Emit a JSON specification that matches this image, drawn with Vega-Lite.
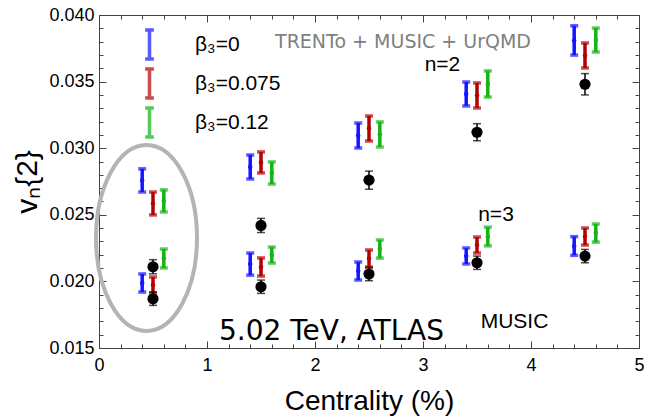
{
  "$schema": "https://vega.github.io/schema/vega-lite/v6.json",
  "width": 540,
  "height": 333,
  "autosize": "none",
  "padding": {"left": 99, "top": 15, "right": 12, "bottom": 69},
  "background": "white",
  "config": {"view": {"stroke": "#444444", "strokeWidth": 1}, "font": "Liberation Sans"},
  "datasets": {
    "models": [
      {"model": "β₃=0", "n": 2, "x": 0.4, "v": 0.02758, "err": 0.00087},
      {"model": "β₃=0.075", "n": 2, "x": 0.5, "v": 0.02585, "err": 0.00086},
      {"model": "β₃=0.12", "n": 2, "x": 0.6, "v": 0.02604, "err": 0.00083},
      {"model": "β₃=0", "n": 3, "x": 0.4, "v": 0.01988, "err": 0.00068},
      {"model": "β₃=0.075", "n": 3, "x": 0.5, "v": 0.01973, "err": 0.0006},
      {"model": "β₃=0.12", "n": 3, "x": 0.6, "v": 0.02172, "err": 0.00071},
      {"model": "β₃=0", "n": 2, "x": 1.4, "v": 0.02859, "err": 0.0009},
      {"model": "β₃=0.075", "n": 2, "x": 1.5, "v": 0.02893, "err": 0.00079},
      {"model": "β₃=0.12", "n": 2, "x": 1.6, "v": 0.02814, "err": 0.00083},
      {"model": "β₃=0", "n": 3, "x": 1.4, "v": 0.0213, "err": 0.00083},
      {"model": "β₃=0.075", "n": 3, "x": 1.5, "v": 0.02108, "err": 0.00068},
      {"model": "β₃=0.12", "n": 3, "x": 1.6, "v": 0.02198, "err": 0.0006},
      {"model": "β₃=0", "n": 2, "x": 2.4, "v": 0.03095, "err": 0.00094},
      {"model": "β₃=0.075", "n": 2, "x": 2.5, "v": 0.03148, "err": 0.00094},
      {"model": "β₃=0.12", "n": 2, "x": 2.6, "v": 0.03103, "err": 0.00094},
      {"model": "β₃=0", "n": 3, "x": 2.4, "v": 0.02078, "err": 0.00068},
      {"model": "β₃=0.075", "n": 3, "x": 2.5, "v": 0.02172, "err": 0.00064},
      {"model": "β₃=0.12", "n": 3, "x": 2.6, "v": 0.02243, "err": 0.00068},
      {"model": "β₃=0", "n": 2, "x": 3.4, "v": 0.03407, "err": 0.0009},
      {"model": "β₃=0.075", "n": 2, "x": 3.5, "v": 0.03396, "err": 0.00094},
      {"model": "β₃=0.12", "n": 2, "x": 3.6, "v": 0.03482, "err": 0.00098},
      {"model": "β₃=0", "n": 3, "x": 3.4, "v": 0.02191, "err": 0.0006},
      {"model": "β₃=0.075", "n": 3, "x": 3.5, "v": 0.02273, "err": 0.0006},
      {"model": "β₃=0.12", "n": 3, "x": 3.6, "v": 0.02337, "err": 0.0007},
      {"model": "β₃=0", "n": 2, "x": 4.4, "v": 0.03809, "err": 0.0011},
      {"model": "β₃=0.075", "n": 2, "x": 4.5, "v": 0.03696, "err": 0.00094},
      {"model": "β₃=0.12", "n": 2, "x": 4.6, "v": 0.03812, "err": 0.0009},
      {"model": "β₃=0", "n": 3, "x": 4.4, "v": 0.02266, "err": 0.0007},
      {"model": "β₃=0.075", "n": 3, "x": 4.5, "v": 0.02337, "err": 0.00064},
      {"model": "β₃=0.12", "n": 3, "x": 4.6, "v": 0.02363, "err": 0.00068}
    ],
    "atlas": [
      {"n": 2, "x": 0.5, "v": 0.0211, "err": 0.00053},
      {"n": 3, "x": 0.5, "v": 0.0187, "err": 0.0005},
      {"n": 2, "x": 1.5, "v": 0.0242, "err": 0.00053},
      {"n": 3, "x": 1.5, "v": 0.0196, "err": 0.0005},
      {"n": 2, "x": 2.5, "v": 0.0276, "err": 0.00068},
      {"n": 3, "x": 2.5, "v": 0.02055, "err": 0.0005},
      {"n": 2, "x": 3.5, "v": 0.0312, "err": 0.00064},
      {"n": 3, "x": 3.5, "v": 0.0214, "err": 0.0005},
      {"n": 2, "x": 4.5, "v": 0.0348, "err": 0.0008},
      {"n": 3, "x": 4.5, "v": 0.0219, "err": 0.0005}
    ]
  },
  "layer": [
    {
      "data": {"name": "atlas"},
      "mark": {"type": "point", "opacity": 0},
      "encoding": {
        "x": {"field": "x", "type": "quantitative",
          "scale": {"domain": [0, 5], "nice": false, "zero": false},
          "axis": {"orient": "top", "labels": false, "ticks": true, "domain": true, "title": null, "grid": false, "domainColor": "#444444", "tickColor": "#444444",
            "values": [0,0.2,0.4,0.6,0.8,1,1.2,1.4,1.6,1.8,2,2.2,2.4,2.6,2.8,3,3.2,3.4,3.6,3.8,4,4.2,4.4,4.6,4.8,5],
            "tickSize": {"condition": {"test": "abs(datum.value - round(datum.value)) < 1e-6", "value": -7}, "value": -4}}},
        "y": {"field": "v", "type": "quantitative",
          "scale": {"domain": [0.015, 0.04], "nice": false, "zero": false},
          "axis": {"orient": "right", "labels": false, "ticks": true, "domain": true, "title": null, "grid": false, "domainColor": "#444444", "tickColor": "#444444",
            "values": [0.015,0.016,0.017,0.018,0.019,0.02,0.021,0.022,0.023,0.024,0.025,0.026,0.027,0.028,0.029,0.03,0.031,0.032,0.033,0.034,0.035,0.036,0.037,0.038,0.039,0.04],
            "tickSize": {"condition": {"test": "abs(datum.value*200 - round(datum.value*200)) < 1e-6", "value": -7}, "value": -4}}}
      }
    },
    {
      "data": {"name": "atlas"},
      "mark": {"type": "point", "opacity": 0},
      "encoding": {
        "x": {"field": "x", "type": "quantitative",
          "scale": {"domain": [0, 5], "nice": false, "zero": false},
          "axis": {"orient": "bottom", "title": "Centrality (%)", "titleFontSize": 28, "titleFont": "Liberation Sans", "titleFontWeight": "normal", "titleColor": "black", "titlePadding": 10,
            "grid": false, "ticks": true, "domain": true, "domainColor": "#444444", "tickColor": "#444444", "labelFontSize": 18, "labelColor": "black", "labelFlush": false, "labelOverlap": false, "labelPadding": 15,
            "values": [0,0.2,0.4,0.6,0.8,1,1.2,1.4,1.6,1.8,2,2.2,2.4,2.6,2.8,3,3.2,3.4,3.6,3.8,4,4.2,4.4,4.6,4.8,5],
            "labelExpr": "abs(datum.value - round(datum.value)) < 1e-6 ? format(datum.value, 'd') : ''",
            "tickSize": {"condition": {"test": "abs(datum.value - round(datum.value)) < 1e-6", "value": -7}, "value": -4}}},
        "y": {"field": "v", "type": "quantitative",
          "scale": {"domain": [0.015, 0.04], "nice": false, "zero": false},
          "axis": {"orient": "left", "title": "vₙ{2}", "titleFontSize": 30, "titleFont": "Liberation Sans", "titleFontWeight": "normal", "titleColor": "black", "titlePadding": 6,
            "grid": false, "ticks": true, "domain": true, "domainColor": "#444444", "tickColor": "#444444", "labelFontSize": 18, "labelColor": "black", "labelFlush": false, "labelOverlap": false, "labelPadding": 12,
            "values": [0.015,0.016,0.017,0.018,0.019,0.02,0.021,0.022,0.023,0.024,0.025,0.026,0.027,0.028,0.029,0.03,0.031,0.032,0.033,0.034,0.035,0.036,0.037,0.038,0.039,0.04],
            "labelExpr": "abs(datum.value*200 - round(datum.value*200)) < 1e-6 ? format(datum.value, '.3f') : ''",
            "tickSize": {"condition": {"test": "abs(datum.value*200 - round(datum.value*200)) < 1e-6", "value": -7}, "value": -4}}}
      }
    },
    {
      "layer": [
        {
          "data": {"values": [{"x": 0.44, "y": 0.02326}]},
          "mark": {"type": "point", "filled": false, "shape": "M0.543,0C0.543,0.552 0.3,1 0,1C-0.3,1 -0.543,0.552 -0.543,0C-0.543,-0.552 -0.3,-1 0,-1C0.3,-1 0.543,-0.552 0.543,0Z", "size": 34596, "stroke": "#b4b4b4", "strokeWidth": 4, "opacity": 1},
          "encoding": {
            "x": {"field": "x", "type": "quantitative", "axis": null, "scale": {"domain": [0, 5], "nice": false, "zero": false}},
            "y": {"field": "y", "type": "quantitative", "axis": null, "scale": {"domain": [0.015, 0.04], "nice": false, "zero": false}}
          }
        },
        {
          "data": {"name": "models"},
          "mark": {"type": "errorbar", "thickness": 3.5, "ticks": {"size": 8, "thickness": 3.5}},
          "encoding": {
            "x": {"field": "x", "type": "quantitative", "axis": null},
            "y": {"field": "v", "type": "quantitative", "axis": null},
            "yError": {"field": "err"},
            "color": {
              "field": "model", "type": "nominal",
              "scale": {"domain": ["β₃=0", "β₃=0.075", "β₃=0.12"], "range": ["#1414ff", "#b40000", "#14b414"]},
              "legend": {"orient": "none", "legendX": 34, "legendY": 13, "title": null, "padding": 0,
                "symbolType": "M-0.3,-1H0.3M0,-1V1M-0.3,1H0.3", "symbolSize": 841, "symbolStrokeWidth": 3.5,
                "labelFontSize": 21, "labelFont": "Liberation Sans", "labelColor": "black", "labelOffset": 29, "rowPadding": -4}
            }
          }
        },
        {
          "data": {"name": "models"},
          "mark": {"type": "point", "filled": true, "size": 20, "opacity": 1},
          "encoding": {
            "x": {"field": "x", "type": "quantitative", "axis": null},
            "y": {"field": "v", "type": "quantitative", "axis": null},
            "color": {"field": "model", "type": "nominal",
              "scale": {"domain": ["β₃=0", "β₃=0.075", "β₃=0.12"], "range": ["#1414ff", "#b40000", "#14b414"]},
              "legend": {"orient": "none", "legendX": 34, "legendY": 13, "title": null, "padding": 0,
                "symbolType": "M-0.3,-1H0.3M0,-1V1M-0.3,1H0.3", "symbolSize": 841, "symbolStrokeWidth": 3.5,
                "labelFontSize": 21, "labelFont": "Liberation Sans", "labelColor": "black", "labelOffset": 29, "rowPadding": -4}}
          }
        },
        {
          "data": {"name": "atlas"},
          "mark": {"type": "errorbar", "color": "black", "thickness": 1.5, "ticks": {"size": 8, "thickness": 1.5}},
          "encoding": {
            "x": {"field": "x", "type": "quantitative", "axis": null},
            "y": {"field": "v", "type": "quantitative", "axis": null},
            "yError": {"field": "err"}
          }
        },
        {
          "data": {"name": "atlas"},
          "mark": {"type": "point", "filled": true, "size": 125, "color": "black", "opacity": 1},
          "encoding": {
            "x": {"field": "x", "type": "quantitative", "axis": null},
            "y": {"field": "v", "type": "quantitative", "axis": null}
          }
        },
        {
          "data": {"values": [{"label": "TRENTo + MUSIC + UrQMD", "x": 2.815, "y": 0.03797}]},
          "mark": {"type": "text", "font": "DejaVu Sans", "fontSize": 19, "color": "#808080", "align": "center", "baseline": "middle"},
          "encoding": {
            "x": {"field": "x", "type": "quantitative", "axis": null},
            "y": {"field": "y", "type": "quantitative", "axis": null},
            "text": {"field": "label"}
          }
        },
        {
          "data": {"values": [{"label": "n=2", "x": 3.18, "y": 0.03625}, {"label": "n=3", "x": 3.676, "y": 0.02498}]},
          "mark": {"type": "text", "font": "Liberation Sans", "fontSize": 21, "color": "black", "align": "center", "baseline": "middle"},
          "encoding": {
            "x": {"field": "x", "type": "quantitative", "axis": null},
            "y": {"field": "y", "type": "quantitative", "axis": null},
            "text": {"field": "label"}
          }
        },
        {
          "data": {"values": [{"label": "5.02 TeV, ATLAS", "x": 2.153, "y": 0.0162}]},
          "mark": {"type": "text", "font": "DejaVu Sans", "fontSize": 28, "color": "black", "align": "center", "baseline": "middle"},
          "encoding": {
            "x": {"field": "x", "type": "quantitative", "axis": null},
            "y": {"field": "y", "type": "quantitative", "axis": null},
            "text": {"field": "label"}
          }
        },
        {
          "data": {"values": [{"label": "MUSIC", "x": 3.847, "y": 0.01695}]},
          "mark": {"type": "text", "font": "Liberation Sans", "fontSize": 21, "color": "black", "align": "center", "baseline": "middle"},
          "encoding": {
            "x": {"field": "x", "type": "quantitative", "axis": null},
            "y": {"field": "y", "type": "quantitative", "axis": null},
            "text": {"field": "label"}
          }
        }
      ]
    }
  ],
  "resolve": {"scale": {"x": "independent", "y": "independent"}}
}
